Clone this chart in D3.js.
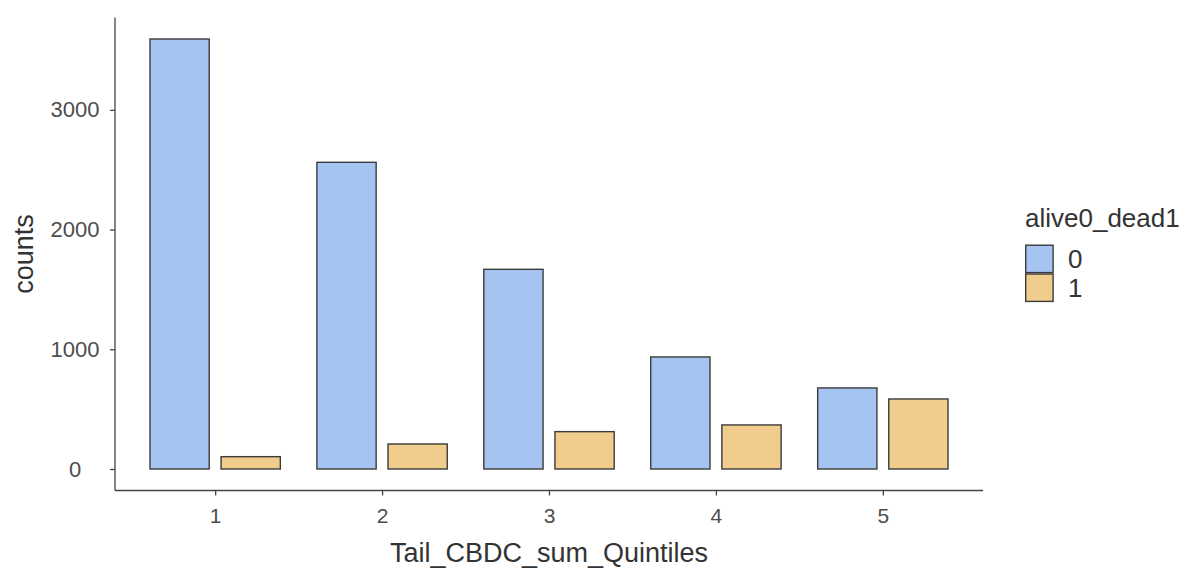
<!DOCTYPE html>
<html>
<head>
<meta charset="utf-8">
<script src="https://cdn.jsdelivr.net/npm/d3@7/dist/d3.min.js"></script>
<style>
  html, body { margin: 0; padding: 0; background: #fff; }
  svg { display: block; font-family: "Liberation Sans", Arial, Helvetica, sans-serif; }
</style>
</head>
<body>
<svg id="chart" width="1186" height="569"></svg>
<script>
// ---- data ----
const categories = ["1", "2", "3", "4", "5"];
const groups = ["0", "1"];
const alive0 = [3592, 2562, 1668, 936, 677];
const dead1  = [103, 209, 312, 368, 585];
const yTicks = [0, 1000, 2000, 3000];
const xTitle = "Tail_CBDC_sum_Quintiles";
const yTitle = "counts";
const legendTitle = "alive0_dead1";
const colors = ["#A6C4F2", "#F0CD8C"];

const svg = d3.select("#chart");
const panel = { left: 115, right: 983, top: 17.5, bottom: 490.5 };

const maxV = d3.max(alive0.concat(dead1));
const y = d3.scaleLinear()
  .domain([-0.05 * maxV, 1.05 * maxV])
  .range([panel.bottom, panel.top]);

const x = d3.scalePoint()
  .domain(categories)
  .range([panel.left, panel.right])
  .padding(0.6);

const step = x.step();
const barW = 0.355 * step;
const offset = 0.213 * step;

const series = [alive0, dead1];
const rows = [];
series.forEach((vals, gi) => {
  vals.forEach((v, ci) => rows.push({ cat: categories[ci], g: gi, v }));
});

svg.append("g").selectAll("rect")
  .data(rows)
  .join("rect")
  .attr("x", d => x(d.cat) + (d.g === 0 ? -offset : offset) - barW / 2)
  .attr("width", barW)
  .attr("y", d => y(d.v))
  .attr("height", d => y(0) - y(d.v))
  .attr("fill", d => colors[d.g])
  .attr("stroke", "#3b3b3b")
  .attr("stroke-width", 1.4);

// axes
const yAxis = d3.axisLeft(y).tickValues(yTicks).tickSize(5).tickPadding(6).tickFormat(d3.format("d"));
const gy = svg.append("g").attr("transform", `translate(${panel.left},0)`).call(yAxis);
gy.select(".domain").attr("d", `M0,${panel.top}V${panel.bottom}`);
// centred tick labels as in the reference
gy.selectAll(".tick text").attr("text-anchor", "middle").attr("x", 75 - panel.left);

const xAxis = d3.axisBottom(x).tickSize(5).tickPadding(13);
const gx = svg.append("g").attr("transform", `translate(0,${panel.bottom})`).call(xAxis);
gx.select(".domain").attr("d", `M${panel.left},0H${panel.right}`);

[gx, gy].forEach(g => {
  g.select(".domain").attr("stroke", "#444").attr("stroke-width", 1.3);
  g.selectAll(".tick line").attr("stroke", "#444").attr("stroke-width", 1.3);
  g.selectAll(".tick text").attr("fill", "#4d4d4d");
});
gy.selectAll(".tick text").style("font-size", "22px");
gx.selectAll(".tick text").style("font-size", "21px");

// titles
svg.append("text")
  .attr("x", (panel.left + panel.right) / 2)
  .attr("y", 562)
  .attr("text-anchor", "middle")
  .attr("fill", "#333")
  .style("font-size", "27px")
  .text(xTitle);

svg.append("text")
  .attr("transform", `translate(33,${(panel.top + panel.bottom) / 2}) rotate(-90)`)
  .attr("text-anchor", "middle")
  .attr("fill", "#333")
  .style("font-size", "27px")
  .text(yTitle);

// legend
const lg = svg.append("g").attr("transform", "translate(1025,0)");
lg.append("text")
  .attr("x", 0).attr("y", 227)
  .attr("fill", "#333")
  .style("font-size", "26px")
  .text(legendTitle);

const keySize = 28.8;
groups.forEach((g, i) => {
  const top = 244.5 + i * keySize;
  lg.append("rect")
    .attr("x", 0.7).attr("y", top + 0.7)
    .attr("width", keySize - 1.4).attr("height", keySize - 1.4)
    .attr("fill", colors[i])
    .attr("stroke", "#3b3b3b")
    .attr("stroke-width", 1.4);
  lg.append("text")
    .attr("x", 43).attr("y", top + keySize / 2)
    .attr("dy", "0.36em")
    .attr("fill", "#333")
    .style("font-size", "26px")
    .text(g);
});
</script>
</body>
</html>
